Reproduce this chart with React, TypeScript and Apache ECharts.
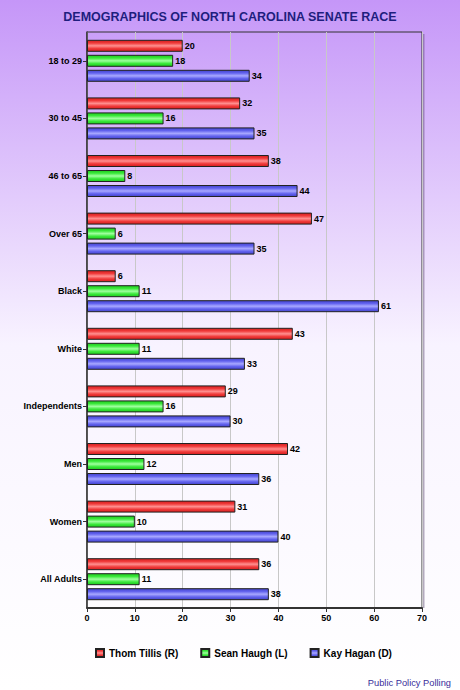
import React, { useEffect, useRef } from "react";
import * as echarts from "echarts";

const categories = ["18 to 29", "30 to 45", "46 to 65", "Over 65", "Black", "White", "Independents", "Men", "Women", "All Adults"];
const tillis = [20, 32, 38, 47, 6, 43, 29, 42, 31, 36];
const haugh = [18, 16, 8, 6, 11, 11, 16, 12, 10, 11];
const hagan = [34, 35, 44, 35, 61, 33, 30, 36, 40, 38];
const seriesNames = ["Thom Tillis (R)", "Sean Haugh (L)", "Kay Hagan (D)"];
const xTicks = { min: 0, max: 70, interval: 10 };

const FONT = "Arial, 'Liberation Sans', sans-serif";

function barGrad(dark: string, base: string, light: string) {
  return new echarts.graphic.LinearGradient(0, 0, 0, 1, [
    { offset: 0, color: dark },
    { offset: 0.25, color: base },
    { offset: 0.5, color: light },
    { offset: 0.75, color: base },
    { offset: 1, color: dark },
  ]);
}

export default function App() {
  const ref = useRef<HTMLDivElement>(null);
  useEffect(() => {
    document.body.style.margin = "0";
    const chart = echarts.init(ref.current!, null, { renderer: "svg" });
    const colors = [
      { dark: "#d41e1e", base: "#f03a3a", light: "#ff9090" },
      { dark: "#1ec81e", base: "#3ae83a", light: "#a0ffa0" },
      { dark: "#4444cc", base: "#6262ee", light: "#a8a8ff" },
    ];
    const data = [tillis, haugh, hagan];
    chart.setOption({
      animation: false,
      backgroundColor: new echarts.graphic.LinearGradient(0, 0, 0, 1, [
        { offset: 0, color: "#c596f8" },
        { offset: 0.5, color: "#f8f3ff" },
        { offset: 1, color: "#ffffff" },
      ]),
      title: {
        text: "DEMOGRAPHICS OF NORTH CAROLINA SENATE RACE",
        left: "center",
        top: 5,
        textStyle: { fontFamily: FONT, fontSize: 12.5, fontWeight: "bold", color: "#1e1e7e" },
      },
      legend: {
        data: seriesNames,
        left: 90,
        top: 643,
        itemWidth: 8,
        itemHeight: 8,
        itemGap: 22,
        icon: "rect",
        textStyle: { fontFamily: FONT, fontSize: 10, fontWeight: "bold", color: "#000" },
      },
      grid: {
        left: 87,
        right: 38,
        top: 32,
        bottom: 82,
        show: true,
        borderColor: "#333",
        borderWidth: 1,
        backgroundColor: "transparent",
      },
      xAxis: {
        type: "value",
        min: xTicks.min,
        max: xTicks.max,
        interval: xTicks.interval,
        axisLine: { show: true, lineStyle: { color: "#333", width: 2 } },
        axisTick: { show: true, length: 4, lineStyle: { color: "#333" } },
        axisLabel: { fontFamily: FONT, fontSize: 9, fontWeight: "bold", color: "#000", margin: 5 },
        splitLine: { show: true, lineStyle: { color: "#c8c8c8", width: 1 } },
      },
      yAxis: {
        type: "category",
        data: categories,
        inverse: true,
        axisLine: { show: true, lineStyle: { color: "#333", width: 1.5 } },
        axisTick: { show: true, length: 4, alignWithLabel: true, lineStyle: { color: "#333" } },
        axisLabel: { fontFamily: FONT, fontSize: 9, fontWeight: "bold", color: "#000", margin: 5 },
        splitLine: { show: false },
      },
      graphic: [
        {
          type: "line",
          shape: { x1: 423.5, y1: 34, x2: 423.5, y2: 608 },
          style: { stroke: "rgba(90,70,110,0.45)", lineWidth: 2 },
          silent: true,
        },
        {
          type: "text",
          right: 9,
          top: 678,
          style: { text: "Public Policy Polling", fontFamily: FONT, fontSize: 9.3, fill: "#3a2d9a" },
        },
      ],
      series: data.map((vals, i) => ({
        name: seriesNames[i],
        type: "bar",
        data: vals,
        barWidth: 12,
        barGap: "25%",
        itemStyle: {
          color: barGrad(colors[i].dark, colors[i].base, colors[i].light),
          borderColor: "#222",
          borderWidth: 1,
        },
        label: {
          show: true,
          position: "right",
          distance: 2,
          fontFamily: FONT,
          fontSize: 9,
          fontWeight: "bold",
          color: "#000",
        },
      })),
    });
    return () => chart.dispose();
  }, []);
  return <div ref={ref} style={{ width: 460, height: 690 }} />;
}
